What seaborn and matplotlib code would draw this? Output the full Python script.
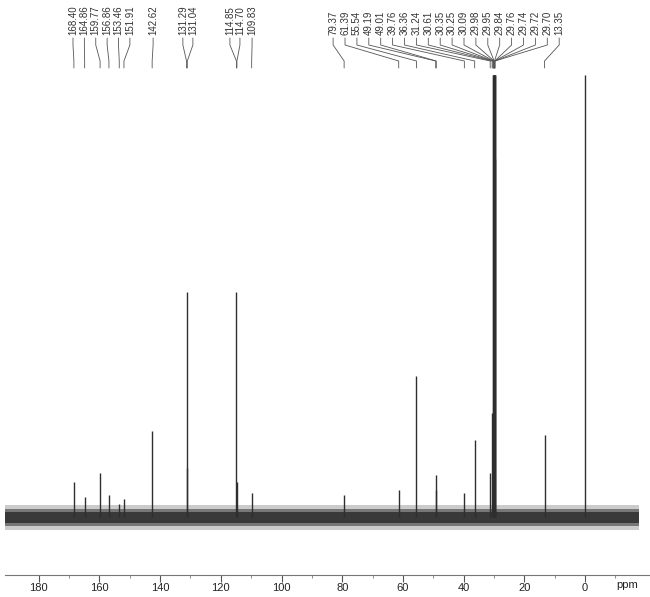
import numpy as np
import pandas as pd
import matplotlib
matplotlib.use("Agg")
import matplotlib.pyplot as plt
import seaborn as sns

# 13C NMR peaks (ppm) and relative intensity
shifts = [168.40, 164.86, 159.77, 156.86, 153.46, 151.91, 142.62, 131.29, 131.04,
          114.85, 114.70, 109.83, 79.37, 61.39, 55.54, 49.19, 49.01, 39.76, 36.36,
          31.24, 30.61, 30.35, 30.25, 30.09, 29.98, 29.95, 29.84, 29.76, 29.74,
          29.72, 29.70, 13.35]
heights = [0.08, 0.045, 0.10, 0.05, 0.03, 0.04, 0.195, 0.51, 0.11,
           0.51, 0.08, 0.055, 0.05, 0.06, 0.32, 0.095, 0.06, 0.055, 0.175,
           0.10, 0.235, 1.0, 1.0, 1.0, 1.0, 1.0, 1.0, 1.0, 1.0,
           1.0, 0.81, 0.185]
shift_labels = [f"{s:.2f}" for s in shifts]
# TMS reference, unlabeled
ref_shift = [0.0]
ref_height = [1.0]
major_ticks = [180, 160, 140, 120, 100, 80, 60, 40, 20, 0]
minor_ticks = [170, 150, 130, 110, 90, 70, 50, 30, 10, -10]

# label slots: (first slot ppm, step ppm, how many labels)
label_groups = [(168.7, 3.75, 6), (142.3, 0, 1), (132.5, 3.3, 2),
                (117.0, 3.3, 2), (109.7, 0, 1), (83.0, 3.92, 20)]

sns.set_theme(style="white")
plt.rcParams["font.family"] = ["Liberation Sans", "DejaVu Sans"]

fig = plt.figure(figsize=(6.5, 5.97), dpi=100)
H_AX = 575.0
ax = fig.add_axes([5 / 650, 1 - H_AX / 597, 645 / 650, H_AX / 597])

BASE_PX, SCALE_PX = 517.0, 442.0


def yv(px):
    # image pixel row -> intensity units
    return (BASE_PX - px) / SCALE_PX


ink = "#2e2e2e"

# baseline noise band, drawn as nested shaded bands
x_lo, x_hi = 191.0, -17.8
for half, alpha in [(0.030, 0.25), (0.021, 0.55), (0.013, 0.9)]:
    ax.fill_between([x_lo, x_hi], [-half, -half], [half * 0.9, half * 0.9],
                    color="#333333", alpha=alpha, linewidth=0)

# peaks
df = pd.DataFrame({"ppm": shifts + ref_shift, "h": heights + ref_height})
ax.vlines(df["ppm"], 0, df["h"], color=ink, linewidth=1.0)

# peak labels with connector lines
slots = []
for start, step, n in label_groups:
    slots += [start - i * step for i in range(n)]
for s, lab, lx in zip(shifts, shift_labels, slots):
    ax.plot([lx, lx, s, s], [yv(38), yv(45), yv(61), yv(68)], color="#555555", lw=0.6)
    ax.text(lx, yv(35), lab, rotation=90, ha="center", va="bottom",
            fontsize=7.0, color="#333333")

ax.set_xlim(191.1, -21.4)
ax.set_ylim(yv(H_AX), yv(0))
ax.set_xticks(major_ticks)
ax.set_xticks(minor_ticks, minor=True)
ax.set_yticks([])
ax.tick_params(axis="x", which="major", direction="out", length=5, width=0.8,
               color="#555555", labelsize=8, labelcolor="#222222", pad=1, bottom=True)
ax.tick_params(axis="x", which="minor", direction="out", length=2, width=0.6,
               color="#777777", bottom=True)
sns.despine(ax=ax, left=True, top=True, right=True)
ax.spines["bottom"].set_color("#777777")
ax.spines["bottom"].set_linewidth(0.8)
ax.text(-14, -0.009, "ppm", transform=ax.get_xaxis_transform(), ha="center", va="top",
        fontsize=8, color="#222222")

fig.savefig("out.png", dpi=100)
